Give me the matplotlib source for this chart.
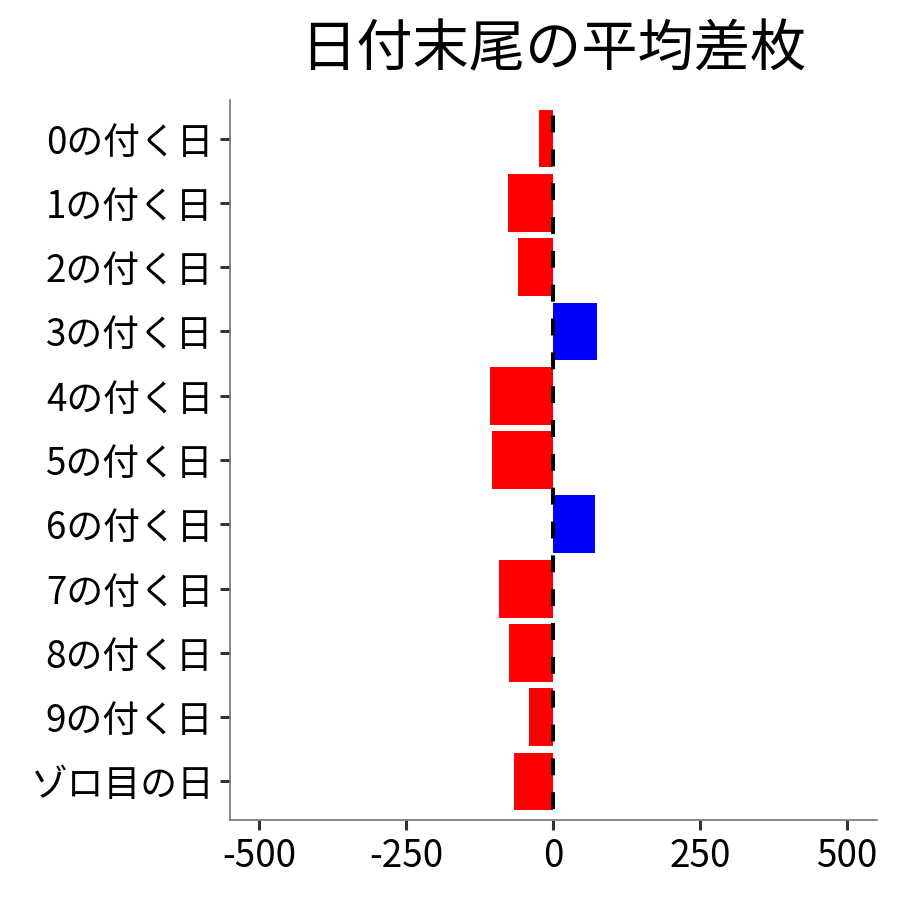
import matplotlib
matplotlib.use("Agg")
import matplotlib.pyplot as plt

plt.rcParams["font.family"] = ["Noto Sans CJK JP", "DejaVu Sans"]

# --------------------------------------------------
# Daten
# --------------------------------------------------

labels = [
    "0の付く日", "1の付く日", "2の付く日", "3の付く日", "4の付く日",
    "5の付く日", "6の付く日", "7の付く日", "8の付く日", "9の付く日",
    "ゾロ目の日",
]
values = [-24, -77, -60, 74, -107, -105, 70, -93, -76, -42, -67]
xticks = [-500, -250, 0, 250, 500]

colors = ["#0000FF" if v > 0 else "#FF0000" for v in values]

fig = plt.figure(figsize=(9, 9), dpi=100)
ax = fig.add_axes([230 / 900, 1 - 820 / 900, 646.7 / 900, 720 / 900])

ypos = list(range(len(labels)))
ax.barh(ypos, values, height=0.9, color=colors, zorder=2)

ax.axvline(0, color="black", linewidth=2.9, linestyle=(5.7, (4.2, 4.2)), zorder=3)

ax.set_xlim(-550, 550)
ax.set_ylim(len(labels) - 0.4, -0.6)

ax.set_xticks(xticks)
ax.set_xticklabels([str(t) for t in xticks])
ax.set_yticks(ypos)
ax.set_yticklabels(labels)

for side in ["top", "right"]:
    ax.spines[side].set_visible(False)
for side in ["left", "bottom"]:
    ax.spines[side].set_color("#777777")
    ax.spines[side].set_linewidth(1.2)

ax.tick_params(axis="both", colors="#333333", width=2.2, length=7,
               labelsize=26.5, labelcolor="black")
ax.tick_params(axis="y", pad=5)
ax.tick_params(axis="x", pad=5.5)

ax.set_title("日付末尾の平均差枚", fontsize=40.5, pad=24)

fig.savefig("out.png", dpi=100)
